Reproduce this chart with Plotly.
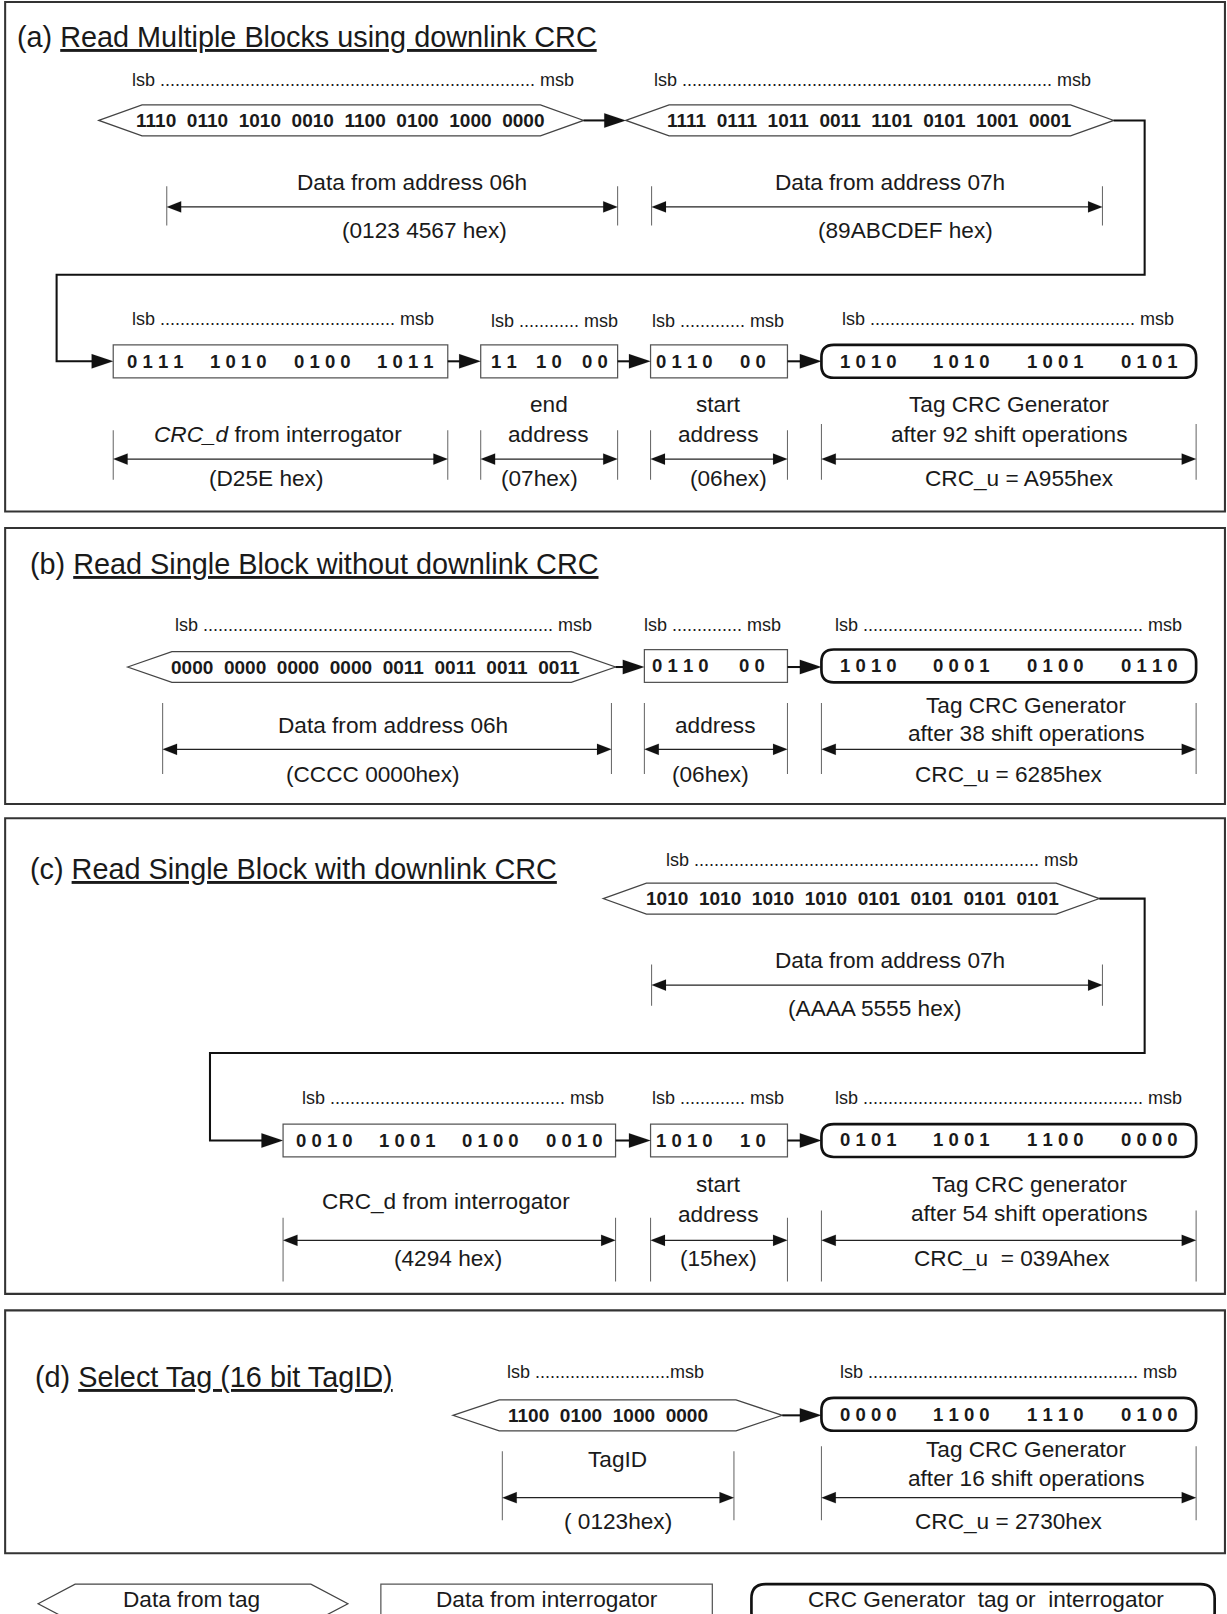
import plotly.graph_objects as go

# ---------------- data (texts of the diagram) ----------------
panel_letters = ["(a)", "(b)", "(c)", "(d)"]
panel_titles = [
    "Read Multiple Blocks using downlink CRC",
    "Read Single Block without downlink CRC",
    "Read Single Block with downlink CRC",
    "Select Tag (16 bit TagID)",
]

# (a)
a_tag_bits = ["1110 0110 1010 0010 1100 0100 1000 0000",
              "1111 0111 1011 0011 1101 0101 1001 0001"]
a_tag_labels = ["Data from address 06h", "Data from address 07h"]
a_tag_hex = ["(0123 4567 hex)", "(89ABCDEF hex)"]
a_ifc_bits = ["0111 1010 0100 1011", "11 10 00", "0110 00"]
a_ifc_labels = [["<i>CRC_d</i> from interrogator"], ["end", "address"], ["start", "address"]]
a_ifc_hex = ["(D25E hex)", "(07hex)", "(06hex)"]
a_crc_bits = "1010 1010 1001 0101"
a_crc_label = ["Tag CRC Generator", "after 92 shift operations"]
a_crc_value = "CRC_u = A955hex"

# (b)
b_tag_bits = "0000 0000 0000 0000 0011 0011 0011 0011"
b_tag_label = "Data from address 06h"
b_tag_hex = "(CCCC 0000hex)"
b_ifc_bits = "0110 00"
b_ifc_label = "address"
b_ifc_hex = "(06hex)"
b_crc_bits = "1010 0001 0100 0110"
b_crc_label = ["Tag CRC Generator", "after 38 shift operations"]
b_crc_value = "CRC_u = 6285hex"

# (c)
c_tag_bits = "1010 1010 1010 1010 0101 0101 0101 0101"
c_tag_label = "Data from address 07h"
c_tag_hex = "(AAAA 5555 hex)"
c_ifc_bits = ["0010 1001 0100 0010", "1010 10"]
c_ifc_labels = [["CRC_d from interrogator"], ["start", "address"]]
c_ifc_hex = ["(4294 hex)", "(15hex)"]
c_crc_bits = "0101 1001 1100 0000"
c_crc_label = ["Tag CRC generator", "after 54 shift operations"]
c_crc_value = "CRC_u  = 039Ahex"

# (d)
d_tag_bits = "1100 0100 1000 0000"
d_tag_label = "TagID"
d_tag_hex = "( 0123hex)"
d_crc_bits = "0000 1100 1110 0100"
d_crc_label = ["Tag CRC Generator", "after 16 shift operations"]
d_crc_value = "CRC_u = 2730hex"

legend_labels = ["Data from tag", "Data from interrogator", "CRC Generator  tag or  interrogator"]

# ---------------- drawing helpers ----------------
W, H = 1227, 1614
SX, SY = 1192.0, 1568.0
K = W / SX
FONT = "Liberation Sans, Arial, Helvetica, sans-serif"
NB = "\u00a0"
shapes, annots = [], []


def ln(x0, y0, x1, y1, w=1.0, c="#222"):
    shapes.append(dict(type="line", x0=x0, y0=y0, x1=x1, y1=y1, xref="x", yref="y",
                       line=dict(color=c, width=w * K)))


def path(d, w=1.0, c="#222", fill=None):
    shapes.append(dict(type="path", path=d, xref="x", yref="y",
                       line=dict(color=c, width=w * K),
                       fillcolor=fill if fill else "rgba(0,0,0,0)"))


def head(xt, y, d=1, L=20, hh=13, c="#111"):
    xb = xt - d * L
    path(f"M{xt},{y} L{xb},{y - hh / 2} L{xb},{y + hh / 2} Z", w=0.1, c=c, fill=c)


def flow(x0, x1, y):
    ln(x0, y, x1 - 16, y, 2.0, "#111")
    head(x1, y, 1, 21, 14)


def dim(x0, x1, y, t0, t1):
    ln(x0, t0, x0, t1, 1.0, "#666")
    ln(x1, t0, x1, t1, 1.0, "#666")
    ln(x0 + 8, y, x1 - 8, y, 1.3, "#222")
    head(x0, y, -1, 14, 11)
    head(x1, y, 1, 14, 11)


def hexa(xl, xr, yc, h=30, ins=42, w=1.2):
    d = (f"M{xl},{yc} L{xl + ins},{yc - h / 2} L{xr - ins},{yc - h / 2} L{xr},{yc} "
         f"L{xr - ins},{yc + h / 2} L{xl + ins},{yc + h / 2} Z")
    path(d, w, "#444", "white")


def rect(x0, x1, y0, y1, w=1.2, c="#555", fill="white"):
    shapes.append(dict(type="rect", x0=x0, x1=x1, y0=y0, y1=y1, xref="x", yref="y",
                       line=dict(color=c, width=w * K), fillcolor=fill))


def rrect(x0, x1, y0, y1, r=12, w=2.6):
    d = (f"M{x0 + r},{y0} L{x1 - r},{y0} Q{x1},{y0} {x1},{y0 + r} L{x1},{y1 - r} "
         f"Q{x1},{y1} {x1 - r},{y1} L{x0 + r},{y1} Q{x0},{y1} {x0},{y1 - r} "
         f"L{x0},{y0 + r} Q{x0},{y0} {x0 + r},{y0} Z")
    path(d, w, "#111", "white")


def txt(x, y, s, size, bold=False, xa="center", c="#1a1a1a"):
    if bold:
        s = f"<b>{s}</b>"
    annots.append(dict(x=x, y=y, xref="x", yref="y", text=s, showarrow=False,
                       xanchor=xa, yanchor="middle",
                       font=dict(family=FONT, size=size * K, color=c)))


def hex_text(x, y, bits, size=18.5):
    txt(x, y, bits.replace(" ", NB * 2), size, bold=True)


def group_text(x0, x1, y, bits, size=18):
    groups = bits.split()
    n = len(groups)
    for i, g in enumerate(groups):
        cx = x0 + (x1 - x0) * (i + 0.5) / n
        txt(cx, y, NB.join(g), size, bold=True)


def lsb(x0, x1, y, size=17.5, space_msb=True):
    em = 1.278 + 0.278 + 1.889 + (0.278 if space_msb else 0)
    n = int(round(((x1 - x0) / size - em) / 0.278))
    s = "lsb " + "." * n + (" " if space_msb else "") + "msb"
    txt((x0 + x1) / 2, y, s, size)


def lines(x, y_last, ls, size=22, step=29):
    m = len(ls)
    for i, s in enumerate(ls):
        txt(x, y_last - (m - 1 - i) * step, s, size)


def title(x, y, i):
    txt(x, y, f"{panel_letters[i]} <u>{panel_titles[i]}</u>", 28, xa="left")


def border(y0, y1):
    rect(5, 1190, y0, y1, w=2.0, c="#333", fill="rgba(0,0,0,0)")


# ---------------- panel (a) ----------------
border(2, 497)
title(15, 36, 0)
lsb(128, 558, 78)
lsb(634, 1061, 78)
hexa(96, 567, 117)
hex_text(331, 117, a_tag_bits[0])
flow(567, 608, 117)
hexa(608, 1082, 117)
hex_text(845, 117, a_tag_bits[1])
path("M1082,117 L1112,117 L1112,267 L55,267 L55,351 L95,351", 2.0, "#111")
head(110, 351, 1, 21, 14)
dim(162, 600, 201, 181, 219)
txt(400, 177, a_tag_labels[0], 22)
txt(412, 224, a_tag_hex[0], 22)
dim(633, 1071, 201, 181, 219)
txt(865, 177, a_tag_labels[1], 22)
txt(880, 224, a_tag_hex[1], 22)

lsb(128, 422, 310)
lsb(477, 600, 312)
lsb(634, 762, 312)
lsb(817, 1142, 310)
a_boxes = [(110, 435), (467, 600), (632, 765)]
for (x0, x1), bits in zip(a_boxes, a_ifc_bits):
    rect(x0, x1, 335, 367)
    group_text(x0, x1, 351, bits)
flow(435, 467, 351)
flow(600, 632, 351)
flow(765, 798, 351)
rrect(798, 1162, 335, 367)
group_text(798, 1162, 351, a_crc_bits)
a_lab_x = [270, 533, 698]
a_hex_x = [258, 524, 708]
for (x0, x1), lx, hx, lab, hv in zip(a_boxes, a_lab_x, a_hex_x, a_ifc_labels, a_ifc_hex):
    dim(x0, x1, 446, 418, 466)
    lines(lx, 422, lab)
    txt(hx, 465, hv, 22)
dim(798, 1162, 446, 412, 466)
lines(980, 422, a_crc_label)
txt(990, 465, a_crc_value, 22)

# ---------------- panel (b) ----------------
border(513, 781)
title(27, 548, 1)
lsb(170, 575, 607)
lsb(626, 759, 607)
lsb(812, 1148, 607)
hexa(124, 598, 648, ins=43)
hex_text(365, 648, b_tag_bits)
flow(598, 626, 648)
rect(626, 765, 631, 663)
group_text(626, 765, 647, b_ifc_bits)
flow(765, 798, 648)
rrect(798, 1162, 631, 663)
group_text(798, 1162, 647, b_crc_bits)
dim(158, 594, 728, 683, 752)
txt(382, 705, b_tag_label, 22)
txt(362, 752, b_tag_hex, 22)
dim(626, 765, 728, 683, 752)
txt(695, 705, b_ifc_label, 22)
txt(690, 752, b_ifc_hex, 22)
dim(798, 1162, 728, 683, 752)
lines(997, 713, b_crc_label, step=28)
txt(980, 752, b_crc_value, 22)

# ---------------- panel (c) ----------------
border(795, 1257)
title(27, 844, 2)
lsb(648, 1047, 835)
hexa(586, 1068, 873)
hex_text(828, 873, c_tag_bits)
path("M1068,873 L1112,873 L1112,1023 L204,1023 L204,1108 L260,1108", 2.0, "#111")
head(275, 1108, 1, 21, 14)
dim(633, 1071, 957, 937, 977)
txt(865, 933, c_tag_label, 22)
txt(850, 980, c_tag_hex, 22)

lsb(293, 587, 1067)
lsb(634, 762, 1067)
lsb(812, 1148, 1067)
c_boxes = [(275, 598), (632, 765)]
for (x0, x1), bits in zip(c_boxes, c_ifc_bits):
    rect(x0, x1, 1092, 1124)
    group_text(x0, x1, 1108, bits)
flow(598, 632, 1108)
flow(765, 798, 1108)
rrect(798, 1162, 1092, 1124)
group_text(798, 1162, 1107, c_crc_bits)
c_lab_y = [1167, 1180]
c_lab_x = [433, 698]
c_hex_x = [435, 698]
for (x0, x1), lx, ly, hx, lab, hv in zip(c_boxes, c_lab_x, c_lab_y, c_hex_x, c_ifc_labels, c_ifc_hex):
    dim(x0, x1, 1205, 1183, 1245)
    lines(lx, ly, lab)
    txt(hx, 1223, hv, 22)
dim(798, 1162, 1205, 1176, 1245)
lines(1000, 1179, c_crc_label, step=28)
txt(983, 1223, c_crc_value.replace("  ", NB * 2), 22)

# ---------------- panel (d) ----------------
border(1273, 1509)
title(32, 1338, 3)
lsb(492, 684, 1333, space_msb=False)
lsb(815, 1145, 1333)
hexa(440, 760, 1375, ins=45)
hex_text(591, 1375, d_tag_bits)
flow(760, 798, 1375)
rrect(798, 1162, 1358, 1390)
group_text(798, 1162, 1374, d_crc_bits)
dim(488, 713, 1455, 1410, 1477)
txt(600, 1418, d_tag_label, 22)
txt(600, 1478, d_tag_hex, 22)
dim(798, 1162, 1455, 1405, 1477)
lines(997, 1436, d_crc_label, step=28)
txt(980, 1478, d_crc_value, 22)

# ---------------- legend ----------------
hexa(37, 338, 1558, h=38, ins=36)
txt(186, 1554, legend_labels[0], 22)
rect(370, 692, 1539, 1580, w=1.2)
txt(531, 1554, legend_labels[1], 22)
rrect(730, 1180, 1539, 1580, r=14, w=2.6)
txt(958, 1554, legend_labels[2].replace("  ", NB * 2), 22)

# ---------------- figure ----------------
fig = go.Figure(go.Scatter(x=[0], y=[0], mode="markers", marker=dict(opacity=0),
                           hoverinfo="skip", showlegend=False))
fig.update_layout(
    width=W, height=H, margin=dict(l=0, r=0, t=0, b=0),
    paper_bgcolor="white", plot_bgcolor="white",
    xaxis=dict(range=[0, SX], visible=False, fixedrange=True),
    yaxis=dict(range=[SY, 0], visible=False, fixedrange=True),
    shapes=shapes, annotations=annots, showlegend=False,
)
fig.write_html("out.html", config={"displayModeBar": False},
               post_script="document.body.style.margin='0px';document.body.style.padding='0px';")
